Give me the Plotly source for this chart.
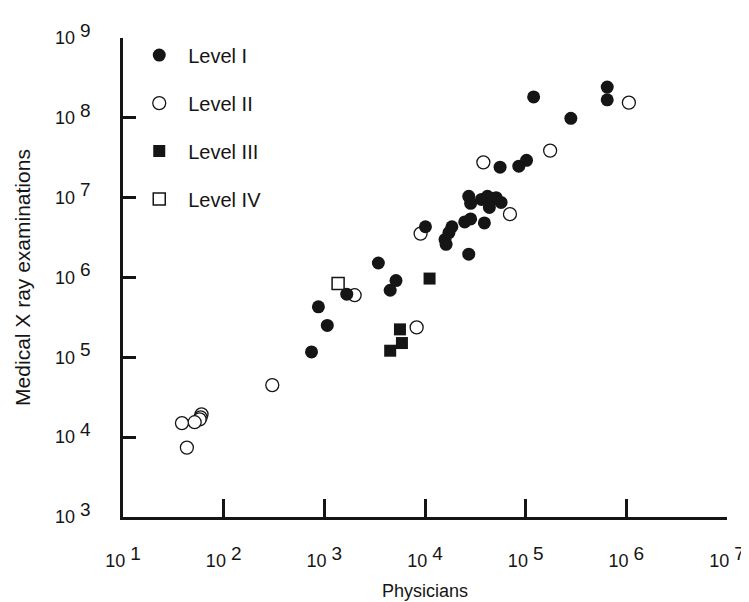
import plotly.graph_objects as go

# ---- data ----
level1_physicians = [6.46e5, 6.46e5, 1.20e5, 2.81e5, 1.02e5, 8.55e4, 5.57e4, 2.72e4, 2.84e4, 3.64e4,
                     4.17e4, 4.66e4, 5.09e4, 5.70e4, 4.36e4, 2.48e4, 2.84e4, 3.89e4, 1.01e4, 1.85e4,
                     1.73e4, 1.58e4, 1.62e4, 2.72e4, 3.44e3, 5.15e3, 4.51e3, 1.67e3, 873, 1.07e3, 746]
level1_xray = [2.43e8, 1.68e8, 1.83e8, 9.86e7, 2.94e7, 2.48e7, 2.41e7, 1.04e7, 8.49e6, 9.51e6,
               1.04e7, 9.77e6, 1.00e7, 8.73e6, 7.55e6, 4.97e6, 5.41e6, 4.82e6, 4.32e6, 4.32e6,
               3.65e6, 2.99e6, 2.60e6, 1.96e6, 1.52e6, 9.16e5, 6.92e5, 6.18e5, 4.29e5, 2.51e5, 1.17e5]

level2_physicians = [1.06e6, 1.75e5, 3.80e4, 6.98e4, 9.04e3, 2.00e3, 8.26e3, 304, 60.3, 59.0, 57.7, 51.5, 38.5, 43.1]
level2_xray = [1.55e8, 3.89e7, 2.77e7, 6.22e6, 3.55e6, 6.00e5, 2.37e5, 4.49e4, 1.93e4, 1.77e4, 1.67e4, 1.54e4, 1.50e4, 7.40e3]

level3_physicians = [1.11e4, 5.64e3, 5.90e3, 4.51e3]
level3_xray = [9.70e5, 2.24e5, 1.51e5, 1.21e5]

level4_physicians = [1.37e3]
level4_xray = [8.41e5]

series_names = ["Level I", "Level II", "Level III", "Level IV"]
x_title = "Physicians"
y_title = "Medical X ray examinations"
x_exponents = [1, 2, 3, 4, 5, 6, 7]
y_exponents = [3, 4, 5, 6, 7, 8, 9]

# ---- styling ----
INK = "#151515"
FONT = "Liberation Sans, Arial, Helvetica, sans-serif"

def tick_text(e):
    return "10 <sup><span style='font-size:19px'>%d</span></sup>" % e

fig = go.Figure()

# open circles first so filled circles sit on top of them
fig.add_trace(go.Scatter(
    x=level2_physicians, y=level2_xray, mode="markers", name=series_names[1],
    legendrank=2, legendgroup="g2",
    marker=dict(symbol="circle", size=13, color="white", line=dict(color=INK, width=1.3)),
))
fig.add_trace(go.Scatter(
    x=level4_physicians, y=level4_xray, mode="markers", name=series_names[3],
    legendrank=4, legendgroup="g4",
    marker=dict(symbol="square", size=12, color="white", line=dict(color=INK, width=1.5)),
))
fig.add_trace(go.Scatter(
    x=level3_physicians, y=level3_xray, mode="markers", name=series_names[2],
    legendrank=3, legendgroup="g3",
    marker=dict(symbol="square", size=12, color=INK, line=dict(width=0)),
))
fig.add_trace(go.Scatter(
    x=level1_physicians, y=level1_xray, mode="markers", name=series_names[0],
    legendrank=1, legendgroup="g1",
    marker=dict(symbol="circle", size=13, color=INK, line=dict(width=0)),
))

fig.update_layout(
    width=749, height=602,
    margin=dict(l=115, r=19, t=29, b=83),
    plot_bgcolor="white", paper_bgcolor="white",
    font=dict(family=FONT, color=INK, size=18),
    showlegend=True,
    legend=dict(
        x=0.012, y=1.005, xanchor="left", yanchor="top",
        bgcolor="rgba(0,0,0,0)", borderwidth=0,
        font=dict(size=20, family=FONT, color=INK),
        tracegroupgap=19, itemwidth=48, traceorder="grouped",
    ),
    xaxis=dict(
        type="log", range=[1, 7], showgrid=False, zeroline=False,
        showline=True, linecolor=INK, linewidth=2.7,
        ticks="inside", ticklen=18, tickwidth=2.7, tickcolor=INK,
        tickvals=[10 ** e for e in x_exponents],
        ticktext=[tick_text(e) for e in x_exponents],
        ticklabelstandoff=26,
        tickfont=dict(size=18, family=FONT, color=INK),
        title=dict(text=x_title, font=dict(size=18, family=FONT, color=INK), standoff=14),
    ),
    yaxis=dict(
        type="log", range=[3, 9], showgrid=False, zeroline=False,
        showline=True, linecolor=INK, linewidth=2.7,
        ticks="inside", ticklen=13, tickwidth=2.7, tickcolor=INK,
        tickvals=[10 ** e for e in y_exponents],
        ticktext=[tick_text(e) for e in y_exponents],
        ticklabelstandoff=26,
        tickfont=dict(size=18, family=FONT, color=INK),
        title=dict(text=y_title, font=dict(size=21, family=FONT, color=INK), standoff=19),
    ),
)

fig.write_html("out.html")
